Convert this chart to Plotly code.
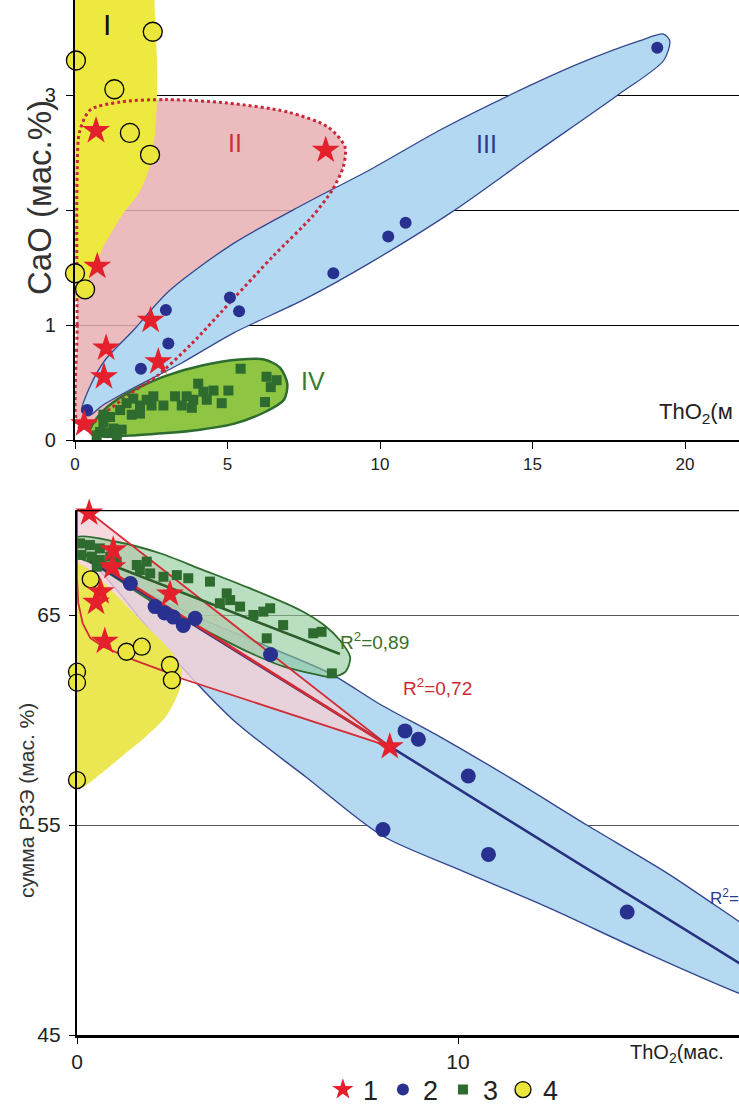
import plotly.graph_objects as go

W, H = 739, 1106
FONT = "Liberation Sans, Arial, sans-serif"

# ---------------- TOP PANEL DATA (ThO2 vs CaO) ----------------
star_x1 = [0.69, 8.22, 0.73, 2.48, 1.02, 0.95, 2.73, 0.30]
star_y1 = [2.69, 2.52, 1.51, 1.04, 0.80, 0.55, 0.68, 0.14]

dot_x1 = [0.40, 2.16, 3.06, 2.98, 5.08, 5.38, 8.47, 10.27, 10.84, 19.09]
dot_y1 = [0.26, 0.62, 0.84, 1.13, 1.24, 1.12, 1.45, 1.77, 1.89, 3.41]

sq_x1 = [5.43, 6.28, 6.61, 6.42, 6.23, 5.03, 4.81, 4.54, 4.21, 4.04, 3.88, 3.66,
         3.50, 3.83, 2.90, 2.57, 2.35, 2.13, 1.91, 1.69, 1.48, 1.86, 1.15, 0.93,
         1.26, 1.53, 0.82, 1.09, 0.71, 1.37, 0.93, 2.13, 2.51, 4.32, 3.28]
sq_y1 = [0.62, 0.55, 0.52, 0.46, 0.33, 0.43, 0.32, 0.43, 0.42, 0.49, 0.35, 0.38,
         0.30, 0.28, 0.30, 0.38, 0.35, 0.30, 0.36, 0.32, 0.26, 0.22, 0.20, 0.15,
         0.10, 0.09, 0.07, 0.06, 0.04, 0.04, 0.22, 0.23, 0.30, 0.35, 0.38]

circ_x1 = [2.55, 0.03, 1.29, 1.80, 2.46, 0.00, 0.33]
circ_y1 = [3.55, 3.30, 3.05, 2.67, 2.48, 1.45, 1.31]

# field outlines (data units)
fI_x = [0, 0, 2.45, 2.62, 2.68, 2.68, 2.60, 2.46, 2.10, 1.58, 0.93, 0.66, 0.33, 0.10, 0]
fI_y = [1.20, 4.00, 4.00, 3.70, 3.35, 2.90, 2.62, 2.38, 2.15, 1.97, 1.68, 1.51, 1.33, 1.22, 1.20]

fII_x = [0.10, 0.07, 0.07, 0.15, 0.50, 1.50, 3.00, 5.00, 7.00, 8.30, 8.85, 8.80, 8.45,
         7.80, 6.50, 5.20, 3.80, 2.70, 1.80, 0.90, 0.40, 0.10]
fII_y = [0.12, 1.00, 2.30, 2.68, 2.87, 2.94, 2.96, 2.93, 2.85, 2.72, 2.55, 2.38, 2.18,
         1.95, 1.60, 1.23, 0.83, 0.56, 0.40, 0.22, 0.11, 0.12]

fIII_x = [0.22, 0.50, 1.00, 1.90, 3.10, 5.20, 7.50, 9.67, 12.0, 14.26, 16.5, 18.5, 19.3,
          19.5, 19.3, 17.8, 15.0, 12.4, 9.67, 7.50, 5.19, 3.50, 1.90, 0.90, 0.45, 0.22]
fIII_y = [0.25, 0.47, 0.70, 0.95, 1.30, 1.71, 2.05, 2.35, 2.70, 3.00, 3.27, 3.47, 3.53,
          3.47, 3.30, 3.00, 2.48, 1.99, 1.54, 1.22, 0.93, 0.67, 0.45, 0.30, 0.21, 0.25]

fIV_x = [0.49, 0.80, 1.37, 2.20, 3.00, 4.20, 5.40, 6.20, 6.72, 6.96, 6.85, 6.28, 5.20,
         4.10, 3.00, 1.90, 1.00, 0.60, 0.49]
fIV_y = [0.08, 0.22, 0.35, 0.47, 0.56, 0.65, 0.70, 0.70, 0.63, 0.49, 0.35, 0.25, 0.14,
         0.09, 0.06, 0.04, 0.03, 0.04, 0.08]

# ---------------- BOTTOM PANEL DATA (ThO2 vs sum REE) ----------------
star_x2 = [0.32, 0.95, 0.93, 0.62, 0.50, 0.73, 2.44, 8.21]
star_y2 = [69.85, 68.1, 67.3, 66.1, 65.6, 63.75, 66.0, 58.73]

dot_x2 = [1.40, 2.05, 2.30, 2.53, 2.79, 3.10, 5.08, 8.61, 8.96, 10.27, 8.03, 10.80, 14.44]
dot_y2 = [66.5, 65.4, 65.1, 64.9, 64.5, 64.84, 63.12, 59.48, 59.08, 57.33, 54.78, 53.6, 50.86]

sq_x2 = [0.08, 0.34, 0.60, 0.12, 0.39, 0.60, 0.87, 0.52, 1.04, 1.57, 1.83, 1.65, 1.92,
         2.27, 2.62, 2.92, 3.49, 3.93, 4.02, 3.75, 4.28, 4.63, 4.89, 5.07, 5.41, 6.20,
         6.42, 6.69, 4.98]
sq_y2 = [68.41, 68.33, 68.17, 67.86, 67.78, 67.62, 67.78, 67.30, 67.54, 67.38, 67.54,
         67.14, 66.98, 66.82, 66.90, 66.75, 66.59, 66.03, 65.71, 65.56, 65.40, 65.00,
         65.16, 65.32, 64.52, 64.13, 64.20, 62.22, 63.89]

circ_x2 = [0.36, 1.30, 1.70, 0.00, 0.00, 2.44, 2.49, 0.00]
circ_y2 = [66.7, 63.25, 63.49, 62.3, 61.78, 62.62, 61.9, 57.14]

# field outlines
gY_x = [0, 0.3, 1.0, 1.8, 2.5, 2.75, 2.70, 2.35, 1.80, 1.20, 0.60, 0.15, 0]
gY_y = [67.5, 67.2, 66.0, 64.5, 63.2, 62.3, 61.5, 60.2, 59.2, 58.3, 57.4, 56.8, 56.8]

gP_x = [0, 0.32, 8.21, 2.70, 2.44, 1.50, 0.69, 0.35, 0.15, 0.03, 0, 0]
gP_y = [70.0, 69.9, 58.73, 62.0, 62.22, 62.85, 63.49, 63.9, 64.6, 65.6, 66.8, 70.0]

gB_x = [0.30, 0.87, 2.00, 3.23, 5.00, 6.64, 7.95, 9.53, 11.5, 13.38, 15.5, 17.38, 19.5,
        19.5, 17.38, 14.95, 12.33, 10.0, 8.00, 6.00, 4.10, 2.35, 1.04, 0.60, 0.30]
gB_y = [67.6, 66.9, 65.9, 64.84, 63.5, 62.22, 60.75, 59.2, 57.1, 55.0, 52.7, 50.4, 47.8,
        45.5, 46.98, 48.9, 51.1, 52.9, 54.5, 57.3, 60.0, 63.33, 66.2, 67.1, 67.6]

gG_x = [0, 1.0, 2.18, 3.23, 4.5, 5.85, 6.5, 6.9, 7.17, 7.05, 6.7, 6.2, 5.43, 4.54, 3.23,
        2.0, 0.9, 0.34, 0, 0]
gG_y = [68.7, 68.5, 67.94, 67.2, 66.3, 65.24, 64.5, 63.8, 63.0, 62.3, 62.05, 62.2, 62.54,
        63.2, 64.4, 65.6, 66.9, 67.5, 67.8, 68.7]

# trend lines
trend_red_x = [0.34, 8.21]
trend_red_y = [67.7, 58.73]
trend_blue_x = [0.34, 19.0]
trend_blue_y = [67.6, 46.6]
trend_green_x = [0.10, 6.90]
trend_green_y = [67.95, 63.14]

# ---------------- COLOURS ----------------
RED = "#e3202b"
NAVY = "#28318f"
DKGREEN = "#2e6b2e"
YEL = "#ebe63c"

fig = go.Figure()

def region(x, y, fill, line_color=None, width=0, dash="solid", shape="spline",
           xa="x", ya="y", fill_on=True):
    fig.add_trace(go.Scatter(
        x=x, y=y, mode="lines", xaxis=xa, yaxis=ya,
        fill="toself" if fill_on else "none", fillcolor=fill,
        line=dict(color=line_color if line_color else "rgba(0,0,0,0)", width=width,
                  dash=dash, shape=shape, smoothing=0.8),
        hoverinfo="skip", showlegend=False))

# ---- top panel fields ----
region(fII_x, fII_y, "rgba(232,175,178,0.85)")
region(fI_x, fI_y, "#ede93e")
region(fIII_x, fIII_y, "#b3d8f1", "#34478f", 1.3)
region(fIV_x, fIV_y, "#8ec644", DKGREEN, 2.5)
region(fII_x, fII_y, "rgba(0,0,0,0)", "#c8283c", 3, dash="dot", fill_on=False)

# ---- bottom panel fields ----
region(gB_x, gB_y, "#b5d9f1", "#34478f", 1.4, shape="spline", xa="x2", ya="y2")
region(gP_x, gP_y, "rgba(244,208,214,0.8)", None, 0, shape="linear", xa="x2", ya="y2")
region(gY_x, gY_y, "#ebe752", None, 0, xa="x2", ya="y2")
region(gG_x, gG_y, "rgba(140,200,150,0.6)", DKGREEN, 1.8, xa="x2", ya="y2")
region(gP_x, gP_y, "rgba(0,0,0,0)", "#d22c35", 1.8, shape="linear", xa="x2", ya="y2",
       fill_on=False)

for tx, ty, col, w in [(trend_blue_x, trend_blue_y, "#27317f", 2.6),
                       (trend_red_x, trend_red_y, "#d22c35", 2.6),
                       (trend_green_x, trend_green_y, "#2c5e2c", 2.6)]:
    fig.add_trace(go.Scatter(x=tx, y=ty, mode="lines", xaxis="x2", yaxis="y2",
                             line=dict(color=col, width=w), hoverinfo="skip",
                             showlegend=False))

# ---- points ----
def pts(x, y, name, sym, color, size, xa, ya, show, rank, lw=0, lc="black"):
    fig.add_trace(go.Scatter(
        x=x, y=y, mode="markers", name=name, xaxis=xa, yaxis=ya,
        marker=dict(symbol=sym, color=color, size=size, line=dict(width=lw, color=lc)),
        showlegend=show, legendrank=rank, cliponaxis=False))

pts(sq_x1, sq_y1, "3", "square", DKGREEN, 10, "x", "y", True, 3)
pts(dot_x1, dot_y1, "2", "circle", NAVY, 12, "x", "y", True, 2)
pts(circ_x1, circ_y1, "4", "circle", YEL, 19, "x", "y", True, 4, 1.3)
pts(star_x1, star_y1, "1", "star", RED, 21, "x", "y", True, 1)

pts(sq_x2, sq_y2, "3", "square", DKGREEN, 10, "x2", "y2", False, 3)
pts(dot_x2, dot_y2, "2", "circle", NAVY, 15, "x2", "y2", False, 2)
pts(circ_x2, circ_y2, "4", "circle", YEL, 17, "x2", "y2", False, 4, 1.3)
pts(star_x2, star_y2, "1", "star", RED, 21, "x2", "y2", False, 1)

# ---------------- LAYOUT ----------------
top_bottom_px, bot_top_px, bot_bottom_px = 440, 510, 1035
x1_dom = [75 / W, 1]
x2_dom = [77 / W, 1]
y1_dom = [(H - top_bottom_px) / H, 1]
y2_dom = [(H - bot_bottom_px) / H, (H - bot_top_px) / H]

base = dict(showline=True, linecolor="black", ticks="outside", tickcolor="black",
            zeroline=False, automargin=False)

fig.update_layout(
    template="none",
    width=W, height=H, margin=dict(l=0, r=0, t=0, b=0, autoexpand=False),
    paper_bgcolor="white", plot_bgcolor="white",
    font=dict(family=FONT, color="#222"),
    xaxis=dict(domain=x1_dom, range=[0, (W - 75) / 30.5], anchor="y",
               tickvals=[0, 5, 10, 15, 20], showgrid=False, linewidth=2.2, ticklen=7,
               tickfont=dict(family=FONT, color="#222", size=17), **base),
    yaxis=dict(domain=y1_dom, range=[0, top_bottom_px / 115], anchor="x",
               tickvals=[0, 1, 2, 3], ticktext=["0", "1", "", "3"], showgrid=True,
               gridcolor="black", gridwidth=1.2, linewidth=2.2, ticklen=7,
               ticklabelstandoff=6,
               tickfont=dict(family=FONT, color="#222", size=20), **base),
    xaxis2=dict(domain=x2_dom, range=[0, (W - 77) / 38.1], anchor="y2",
                tickvals=[0, 10], showgrid=False, linewidth=2.8, ticklen=6,
                tickfont=dict(family=FONT, color="#222", size=21), **base),
    yaxis2=dict(domain=y2_dom, range=[45, 70], anchor="x2",
                tickvals=[45, 55, 65], showgrid=True, gridcolor="#555", gridwidth=1.4,
                linewidth=2.2, ticklen=6, ticklabelstandoff=4,
                tickfont=dict(family=FONT, color="#222", size=21), **base),
    legend=dict(orientation="h", x=0.60, xanchor="center", y=(H - 1090) / H,
                yanchor="middle", font=dict(family=FONT, size=27, color="#222"),
                bgcolor="rgba(0,0,0,0)", itemwidth=30),
    shapes=[dict(type="line", xref="x2 domain", yref="y2", x0=0, x1=1, y0=70, y1=70,
                 line=dict(color="black", width=2.6))],
)

ann = []
def txt(text, x, y, size, color, xref="paper", yref="paper", xanchor="center",
        yanchor="middle", angle=0):
    ann.append(dict(text=text, x=x, y=y, xref=xref, yref=yref, xanchor=xanchor,
                    yanchor=yanchor, textangle=angle, showarrow=False,
                    font=dict(family=FONT, size=size, color=color)))

# axis titles
txt("CaO (мас.%)", 40 / W, (H - 198) / H, 33, "#333", angle=-90)
txt("ThO<sub>2</sub>(м", 657 / W, (H - 413) / H, 22, "#222", xanchor="left")
txt("сумма РЗЭ (мас. %)", 26 / W, (H - 801) / H, 21, "#333", angle=-90)
txt("ThO<sub>2</sub>(мас.", 628 / W, (H - 1053) / H, 20, "#222", xanchor="left")

# field labels
txt("I", 1.05, 3.61, 30, "#111", "x", "y")
txt("II", 5.25, 2.58, 25, "#d0303a", "x", "y")
txt("III", 13.5, 2.57, 25, "#2b3a8f", "x", "y")
txt("IV", 7.80, 0.51, 25, "#3a7a2a", "x", "y")

# R^2 labels
txt("R<sup>2</sup>=0,89", 6.85, 63.76, 19, "#3b6e2a", "x2", "y2", xanchor="left")
txt("R<sup>2</sup>=0,72", 8.50, 61.59, 19, "#cc2a36", "x2", "y2", xanchor="left")
txt("R<sup>2</sup>=", 16.55, 51.57, 17, "#2b3990", "x2", "y2", xanchor="left")

fig.update_layout(annotations=ann)
fig.write_html(
    "out.html",
    config={"displayModeBar": False},
    post_script="document.body.style.margin='0';document.body.style.padding='0';",
)
